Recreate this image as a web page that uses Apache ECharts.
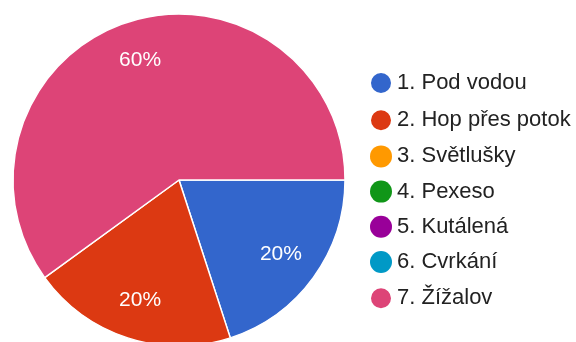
<!DOCTYPE html>
<html>
<head>
<meta charset="utf-8">
<script src="https://cdn.jsdelivr.net/npm/echarts@6/dist/echarts.min.js"></script>
<style>
html,body{margin:0;padding:0;background:#fff;}
#c{width:576px;height:342px;}
</style>
</head>
<body>
<div id="c"></div>
<script>
const categories = ['1. Pod vodou','2. Hop přes potok','3. Světlušky','4. Pexeso','5. Kutálená','6. Cvrkání','7. Žížalov'];
const values = [1, 1, 0, 0, 0, 0, 3];
const colors = ['#3366CC','#DC3912','#FF9900','#109618','#990099','#0099C6','#DD4477'];

const chart = echarts.init(document.getElementById('c'), null, {renderer:'canvas'});
const pieData = categories.map((n,i)=>({name:n, value:values[i], itemStyle:{color:colors[i], borderWidth: values[i] ? 1.5 : 0}}));
const labelData = categories.map((n,i)=>({name:n, value:values[i]}));
const fmt = p => p.value ? Math.round(p.percent) + '%' : '';

chart.setOption({
  animation:false,
  legend:{
    orient:'vertical',
    left:364, top:66,
    itemWidth:22, itemHeight:22, itemGap:13.2,
    icon:'circle',
    data: categories.map((n,i)=>({name:n, itemStyle:{color:colors[i]}})),
    textStyle:{fontFamily:'Liberation Sans', fontSize:22, color:'#222', lineHeight:22}
  },
  series:[{
    type:'pie',
    center:[179,180],
    radius:[0,166],
    startAngle:0,
    clockwise:true,
    silent:true,
    itemStyle:{borderColor:'#fff'},
    label:{show:false},
    labelLine:{show:false},
    data:pieData
  },{
    type:'pie',
    center:[179,180],
    radius:[80,166],
    startAngle:0,
    clockwise:true,
    silent:true,
    itemStyle:{color:'rgba(0,0,0,0)', borderWidth:0},
    label:{show:true, position:'inside', formatter:fmt, color:'#fff', fontFamily:'Liberation Sans', fontSize:21},
    labelLine:{show:false},
    data:labelData
  }]
});
</script>
</body>
</html>
